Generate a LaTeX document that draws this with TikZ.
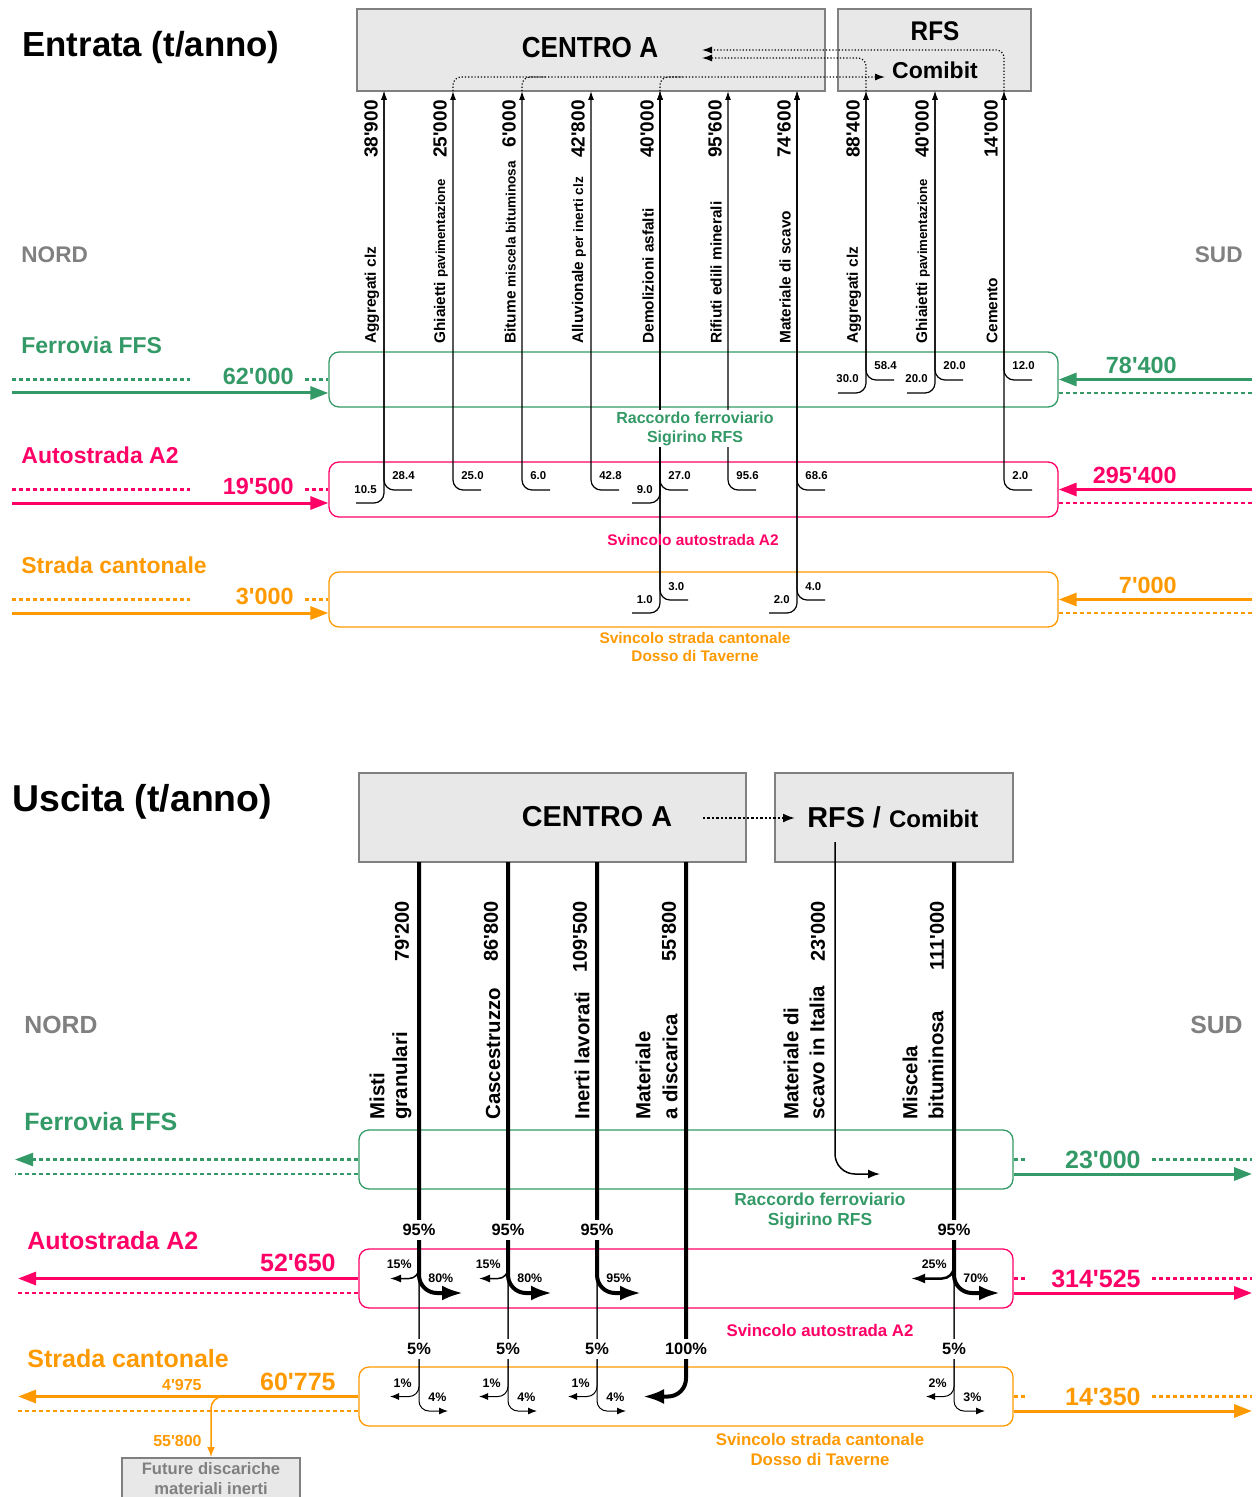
\documentclass[tikz,border=0pt]{standalone}
\usepackage{fontspec}
\usepackage{graphicx}
\newfontfamily\lib{Liberation Sans}
\usetikzlibrary{arrows.meta, positioning, calc}
\definecolor{verde}{RGB}{51,153,102}
\definecolor{rosa}{RGB}{255,0,102}
\definecolor{arancio}{RGB}{255,153,0}
\definecolor{grigio}{RGB}{128,128,128}
\definecolor{chiaro}{RGB}{232,232,232}
\newcommand{\fnt}[2]{\lib\bfseries\fontsize{#1}{#2}\selectfont}
\newcommand{\nar}[2]{\scalebox{#1}[1]{#2}}
\tikzset{
  scatola/.style={draw=grigio, fill=chiaro, line width=1pt},
  corsia/.style={draw=#1, rounded corners=5pt, line width=0.65pt},
  piena/.style={draw=#1, line width=1.5pt, -{Triangle[length=9pt,width=6.5pt]}},
  tratt/.style={draw=#1, line width=1.1pt, dash pattern=on 2pt off 1.5pt},
  flusso/.style={line width=0.6pt, rounded corners=5pt, -{Latex[length=4.5pt,width=3pt]}},
  punt/.style={line width=0.6pt, densely dotted, rounded corners=4pt},
  grosso/.style={line width=2pt, rounded corners=9pt, -{Latex[length=10.5pt,width=7.5pt]}},
  medio/.style={line width=0.75pt, rounded corners=10pt, -{Latex[length=6pt,width=4.5pt]}},
  ramo/.style={line width=0.5pt, rounded corners=5pt, -{Latex[length=4.5pt,width=3.5pt]}},
  ramoa/.style={line width=0.75pt, rounded corners=5pt, -{Latex[length=5.5pt,width=4pt]}},
  ramob/.style={line width=1.25pt, rounded corners=6pt, -{Latex[length=7pt,width=5pt]}}
}
\begin{document}
\begin{tikzpicture}[x=0.5pt, y=-0.5pt, inner sep=0pt,
  titolo/.style={font=\fnt{17.4}{20}, anchor=west},
  card/.style={font=\fnt{11.3}{13}, text=grigio},
  nome/.style={text=#1, anchor=west},
  cifra/.style={font=\fnt{11.7}{14}, text=#1},
  cifra2/.style={font=\fnt{12.5}{14}, text=#1},
  valore/.style={rotate=90, font=\fnt{9.5}{11}},
  valore2/.style={rotate=90, font=\fnt{10}{12}},
  voce/.style={rotate=90, font=\fnt{7.7}{9}},
  voce2/.style={rotate=90, font=\fnt{10.2}{12}},
  quota/.style={font=\fnt{5.7}{7}},
  perc/.style={font=\fnt{6.2}{7}},
  percg/.style={font=\fnt{8.2}{10}, fill=white, inner sep=2pt}]
\useasboundingbox (0,0) rectangle (1257,1497);

% ---------------- Entrata
\node[titolo] (tit1) at (22,48) {Entrata (t/anno)};
\node[scatola, minimum width=234pt, minimum height=41pt] (ca1) at (591,50) {};
\node[scatola, minimum width=96.5pt, minimum height=41pt] (rfs1) at (934.5,50) {};
\node[font=\fnt{14.5}{16}] (ca1t) at (590,48) {\nar{0.9}{CENTRO A}};
\node[font=\fnt{13.5}{16}] (rfs1t) at (935,31) {\nar{0.9}{RFS}};
\node[font=\fnt{11.5}{14}] (com1) at (935,70) {Comibit};
\node[card, anchor=west] (nord1) at (21,255) {NORD};
\node[card, anchor=east] (sud1) at (1243,255) {SUD};

\foreach \n/\c/\y/\t in {f1/verde/379.5/Ferrovia FFS, a1/rosa/489.5/Autostrada A2, s1/arancio/599.5/Strada cantonale}{
  \node[corsia=\c, minimum width=364.5pt, minimum height=27.5pt] (\n) at (693.5,\y) {};
  \node[nome=\c, font=\fnt{11.5}{14}] (l\n) at (21,\y-34.5) {\t};}
\foreach \n/\c/\y/\l/\r in {f1/verde/379.5/62'000/78'400, a1/rosa/489.5/19'500/295'400, s1/arancio/599.5/3'000/7'000}{
  \draw[tratt=\c] (12,\y) -- (190,\y);
  \draw[tratt=\c] (305,\y) -- (\n.west);
  \draw[piena=\c] (12,\y+13.5) -- ([yshift=-6.75pt]\n.west);
  \draw[piena=\c] (1252,\y) -- (\n.east);
  \draw[tratt=\c] ([yshift=-6.75pt]\n.east) -- (1252,\y+13.5);
  \node[cifra=\c, anchor=east] (nl\n) at (294,\y-3.5) {\l};
  \node[cifra=\c, anchor=east] (nr\n) at (1177,\y-14.5) {\r};}

\foreach \i/\x/\v/\t in {1/384/38'900/Aggregati clz, 2/453/25'000/{Ghiaietti {\fnt{6.6}{8}pavimentazione}}, 3/522/6'000/{Bitume {\fnt{6.8}{8}miscela bituminosa}}, 4/591/42'800/{Alluvionale {\fnt{6.8}{8}per inerti clz}}, 5/660/40'000/Demolizioni asfalti, 6/728/95'600/Rifiuti edili minerali, 7/797/74'600/Materiale di scavo, 8/866/88'400/Aggregati clz, 9/935/40'000/{Ghiaietti {\fnt{6.6}{8}pavimentazione}}, 10/1004/14'000/Cemento}{
  \coordinate (e\i) at (\x,91);
  \node[valore, anchor=east] (v\i) at (\x-13,100) {\v};
  \node[voce, anchor=west] (t\i) at (\x-12,344) {\t};}

\foreach \x/\y/\l/\i in {384/503/10.5/1, 660/503/9.0/5, 660/613/1.0/5, 797/613/2.0/7, 866/393/30.0/8, 935/393/20.0/9}{
  \draw[flusso] (\x-28,\y) -| (e\i);
  \node[quota, anchor=base east] (ql\i-\y) at (\x-7,\y-10) {\l};}
\foreach \x/\y/\l/\i in {384/490/28.4/1, 453/490/25.0/2, 522/490/6.0/3, 591/490/42.8/4, 660/490/27.0/5, 728/490/95.6/6, 797/490/68.6/7, 660/600/3.0/5, 797/600/4.0/7, 866/380/58.4/8, 935/380/20.0/9, 1004/380/12.0/10, 1004/490/2.0/10}{
  \draw[flusso] (\x+28,\y) -| (e\i);
  \node[quota, anchor=base west] (qr\i-\y) at (\x+8,\y-10) {\l};}

\coordinate (c1) at (702,50); \coordinate (c2) at (702,58); \coordinate (cb) at (885,77);
\draw[punt, -{Latex[length=5pt,width=3.5pt]}] (e10) |- (c1);
\draw[punt, -{Latex[length=5pt,width=3.5pt]}] (e8) |- (c2);
\draw[punt, -{Latex[length=5pt,width=3.5pt]}] (e2) |- (cb);
\draw[punt] (e3) |- ++(24,-14);
\draw[punt] (e5) |- ++(24,-14);

\node[font=\fnt{8}{9.5}, text=verde, fill=white, align=center, inner sep=1pt] (rac1) at (695,428.5) {Raccordo ferroviario\\Sigirino RFS};
\node[font=\fnt{7.7}{9}, text=rosa] (svi1) at (693,540) {Svincolo autostrada A2};
\node[font=\fnt{7.7}{9}, text=arancio, align=center] (svc1) at (695,647) {Svincolo strada cantonale\\Dosso di Taverne};

% ---------------- Uscita
\node[titolo, font=\fnt{18.7}{22}] (tit2) at (12,802) {Uscita (t/anno)};
\node[scatola, minimum width=193.5pt, minimum height=44.5pt] (ca2) at (552.5,817.5) {};
\node[scatola, minimum width=119pt, minimum height=44.5pt] (rfs2) at (894,817.5) {};
\node[font=\fnt{14.4}{16}] (ca2t) at (597,817) {CENTRO A};
\node[font=\fnt{14.4}{16}, anchor=west] (rfs2t) at (807,817) {RFS / {\fnt{12}{14}Comibit}};
\coordinate (d1) at (703,818); \coordinate (d2) at (795,818);
\draw[line width=1pt, dash pattern=on 1.2pt off 1pt, -{Latex[length=6pt,width=4.5pt]}] (d1) -- (d2);
\node[card, font=\fnt{12.4}{14}, anchor=west] (nord2) at (24,1025) {NORD};
\node[card, font=\fnt{12.4}{14}, anchor=east] (sud2) at (1243,1025) {SUD};

\foreach \n/\c/\y/\t/\tx in {f2/verde/1159.5/Ferrovia FFS/24, a2/rosa/1278.5/Autostrada A2/27, s2/arancio/1396.5/Strada cantonale/27}{
  \node[corsia=\c, minimum width=327pt, minimum height=29.5pt] (\n) at (686,\y) {};
  \node[nome=\c, font=\fnt{12.5}{14}] (l\n) at (\tx,\y-37.5) {\t};}
\foreach \n/\c/\y/\r in {f2/verde/1159.5/23'000, a2/rosa/1278.5/314'525, s2/arancio/1396.5/14'350}{
  \draw[tratt=\c] (\n.east) -- (1027,\y);
  \draw[tratt=\c] (1152,\y) -- (1252,\y);
  \node[cifra2=\c, anchor=east] (nr\n) at (1141,\y) {\r};
  \draw[piena=\c] ([yshift=-7.25pt]\n.east) -- (1252,\y+14.5);}
\draw[tratt=verde, -{Triangle[length=9pt,width=6.5pt]}] (f2.west) -- (15,1159.5);
\draw[tratt=verde] ([yshift=-7.25pt]f2.west) -- (15,1174);
\draw[piena=rosa] (a2.west) -- (18,1278.5);
\draw[tratt=rosa] ([yshift=-7.25pt]a2.west) -- (18,1293);
\node[cifra2=rosa, anchor=east] (nla2) at (336,1263) {52'650};
\draw[piena=arancio] (s2.west) -- (18,1396.5);
\draw[tratt=arancio] ([yshift=-7.25pt]s2.west) -- (18,1411);
\node[cifra2=arancio, anchor=east] (nls2) at (336,1382) {60'775};
\node[font=\fnt{8}{10}, text=arancio, anchor=east] (n4975) at (202,1385) {4'975};
\node[scatola, minimum width=89pt, minimum height=21pt, anchor=north, text=grigio, align=center, font=\fnt{8.3}{10}] (disc) at (211,1457) {Future discariche\\materiali inerti};
\coordinate (dv) at (226,1396.5);
\draw[arancio, line width=0.75pt, rounded corners=6pt, -{Latex[length=5pt,width=4pt]}] (dv) -| (disc.north);
\node[font=\fnt{8}{10}, text=arancio, anchor=east] (n55800) at (202,1441) {55'800};

\node[font=\fnt{8.7}{10}, text=verde, align=center] (rac2) at (820,1211) {Raccordo ferroviario\\Sigirino RFS};
\node[font=\fnt{8.4}{10}, text=rosa] (svi2) at (820,1330) {Svincolo autostrada A2};
\node[font=\fnt{8.4}{10}, text=arancio, align=center] (svc2) at (820,1449) {Svincolo strada cantonale\\Dosso di Taverne};

\foreach \i/\x in {1/419,2/508,3/597,4/686,6/954} \coordinate (u\i) at (\x,862);
\coordinate (u5) at (835,842);
\foreach \i/\x/\v in {1/419/79'200, 2/508/86'800, 3/597/109'500, 4/686/55'800, 5/835/23'000, 6/954/111'000}
  \node[valore2, anchor=east] (w\i) at (\x-17,901) {\v};
\foreach \i/\x/\t in {1/402/granulari, 2/493/Cascestruzzo, 3/582/Inerti lavorati, 4/670/a discarica, 5/817/scavo in Italia, 6/936/bituminosa}
  \node[voce2, anchor=west] (s\i) at (\x,1120) {\t};
\foreach \i/\x/\t in {1/377/Misti, 4/643/Materiale, 5/791/Materiale di, 6/910/Miscela}
  \node[voce2, anchor=west] (r\i) at (\x,1120) {\t};

\foreach \i/\x in {1/419,2/508,3/597} \draw[grosso] (u\i) |- (\x+44,1293);
\draw[grosso] (u6) |- (1000,1293);
\draw[grosso] (u4) |- (643,1396.5);
\draw[medio] (u5) |- (880,1174);
\foreach \x in {419,508} \draw[ramoa] (\x,1250) |- (\x-29,1278.5);
\draw[ramob] (954,1250) |- (911,1278.5);
\foreach \x/\a/\b in {419/29/29, 508/29/29, 597/29/29, 954/28/31}{
  \draw[ramo] (\x,1260) |- (\x-\a,1396.5);
  \draw[ramo] (\x,1260) |- (\x+\b,1411);}

\foreach \x/\p in {419/15, 508/15, 954/25} \node[perc, anchor=east] (pl\x) at (\x-7,1264) {\p\%};
\foreach \x/\p in {419/80, 508/80, 597/95, 954/70} \node[perc, anchor=west] (pr\x) at (\x+9,1278) {\p\%};
\foreach \x/\p in {419/1, 508/1, 597/1, 954/2} \node[perc, anchor=east] (sl\x) at (\x-7,1383) {\p\%};
\foreach \x/\p in {419/4, 508/4, 597/4, 954/3} \node[perc, anchor=west] (sr\x) at (\x+9,1397) {\p\%};
\foreach \x in {419,508,597,954}{
  \node[percg] (g\x) at (\x,1230) {95\%};
  \node[percg] (h\x) at (\x,1349) {5\%};}
\node[percg] (h686) at (686,1349) {100\%};
\end{tikzpicture}
\end{document}
